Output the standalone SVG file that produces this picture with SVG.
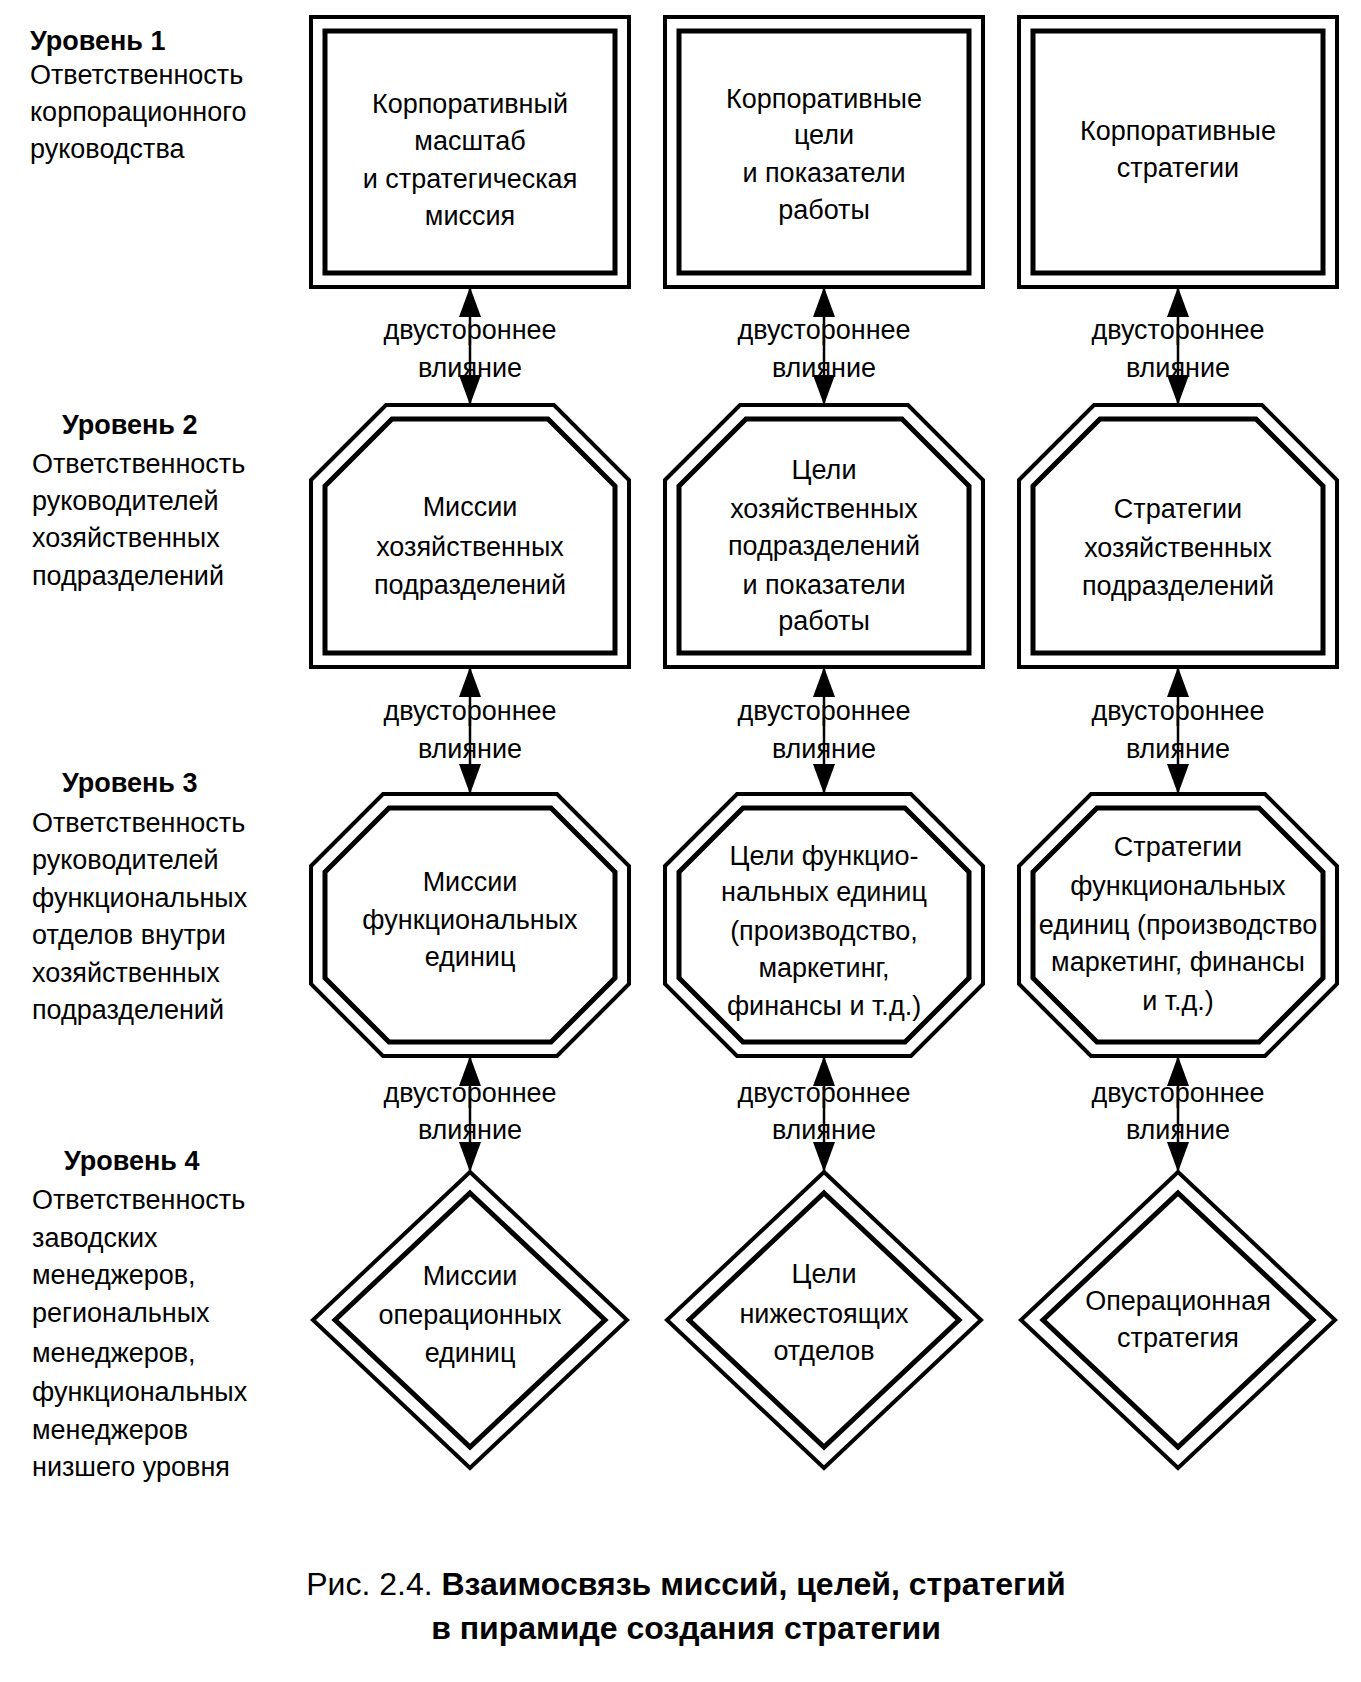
<svg xmlns="http://www.w3.org/2000/svg" width="1361" height="1682" viewBox="0 0 1361 1682">
<style>
text{font-family:"Liberation Sans",Arial,sans-serif;font-size:27px;fill:#000}
.c{text-anchor:middle}
.b{font-weight:bold}
.o{fill:#fff;stroke:#000;stroke-width:4;stroke-linejoin:miter}
.i{fill:none;stroke:#000;stroke-width:5;stroke-linejoin:miter}
.con{stroke:#000;stroke-width:2.5;fill:none;marker-start:url(#ah);marker-end:url(#ah)}
.cap{font-size:32px}
</style>
<defs>
<marker id="ah" viewBox="0 0 30 22" refX="30" refY="11" markerWidth="30" markerHeight="22" markerUnits="userSpaceOnUse" orient="auto-start-reverse">
<path d="M0,0 L30,11 L0,22 z" fill="#000"/>
</marker>
</defs>
<rect width="1361" height="1682" fill="#fff"/>

<g id="connectors">
<line class="con" x1="470" y1="287" x2="470" y2="405"/>
<line class="con" x1="824" y1="287" x2="824" y2="405"/>
<line class="con" x1="1178" y1="287" x2="1178" y2="405"/>
<line class="con" x1="470" y1="667" x2="470" y2="794"/>
<line class="con" x1="824" y1="667" x2="824" y2="794"/>
<line class="con" x1="1178" y1="667" x2="1178" y2="794"/>
<line class="con" x1="470" y1="1056" x2="470" y2="1172"/>
<line class="con" x1="824" y1="1056" x2="824" y2="1172"/>
<line class="con" x1="1178" y1="1056" x2="1178" y2="1172"/>
</g>

<g id="connector-labels">
<text class="c" x="470" y="339">двустороннее</text><text class="c" x="470" y="377">влияние</text>
<text class="c" x="824" y="339">двустороннее</text><text class="c" x="824" y="377">влияние</text>
<text class="c" x="1178" y="339">двустороннее</text><text class="c" x="1178" y="377">влияние</text>
<text class="c" x="470" y="720">двустороннее</text><text class="c" x="470" y="758">влияние</text>
<text class="c" x="824" y="720">двустороннее</text><text class="c" x="824" y="758">влияние</text>
<text class="c" x="1178" y="720">двустороннее</text><text class="c" x="1178" y="758">влияние</text>
<text class="c" x="470" y="1102">двустороннее</text><text class="c" x="470" y="1139">влияние</text>
<text class="c" x="824" y="1102">двустороннее</text><text class="c" x="824" y="1139">влияние</text>
<text class="c" x="1178" y="1102">двустороннее</text><text class="c" x="1178" y="1139">влияние</text>
</g>

<g id="level-labels">
<text x="30" y="50" class="b">Уровень 1</text>
<text x="30" y="84">Ответственность</text>
<text x="30" y="121">корпорационного</text>
<text x="30" y="158">руководства</text>

<text x="62" y="434" class="b">Уровень 2</text>
<text x="32" y="473">Ответственность</text>
<text x="32" y="510">руководителей</text>
<text x="32" y="547">хозяйственных</text>
<text x="32" y="585">подразделений</text>

<text x="62" y="792" class="b">Уровень 3</text>
<text x="32" y="832">Ответственность</text>
<text x="32" y="869">руководителей</text>
<text x="32" y="907">функциональных</text>
<text x="32" y="944">отделов внутри</text>
<text x="32" y="982">хозяйственных</text>
<text x="32" y="1019">подразделений</text>

<text x="64" y="1170" class="b">Уровень 4</text>
<text x="32" y="1209">Ответственность</text>
<text x="32" y="1247">заводских</text>
<text x="32" y="1284">менеджеров,</text>
<text x="32" y="1322">региональных</text>
<text x="32" y="1362">менеджеров,</text>
<text x="32" y="1401">функциональных</text>
<text x="32" y="1439">менеджеров</text>
<text x="32" y="1476">низшего уровня</text>
</g>

<!-- Level 1 -->
<g id="n-corp-mission">
<rect class="o" x="311" y="17" width="318" height="270"/>
<rect class="i" x="325" y="31" width="290" height="242"/>
<text class="c" x="470" y="113">Корпоративный</text>
<text class="c" x="470" y="150">масштаб</text>
<text class="c" x="470" y="188">и стратегическая</text>
<text class="c" x="470" y="225">миссия</text>
</g>
<g id="n-corp-goals">
<rect class="o" x="665" y="17" width="318" height="270"/>
<rect class="i" x="679" y="31" width="290" height="242"/>
<text class="c" x="824" y="108">Корпоративные</text>
<text class="c" x="824" y="144">цели</text>
<text class="c" x="824" y="182">и показатели</text>
<text class="c" x="824" y="219">работы</text>
</g>
<g id="n-corp-strategy">
<rect class="o" x="1019" y="17" width="318" height="270"/>
<rect class="i" x="1033" y="31" width="290" height="242"/>
<text class="c" x="1178" y="140">Корпоративные</text>
<text class="c" x="1178" y="177">стратегии</text>
</g>

<!-- Level 2 -->
<g id="n-bu-mission">
<polygon class="o" points="311,480 386,405 554,405 629,480 629,667 311,667"/>
<polygon class="i" points="325,486 392,419 548,419 615,486 615,653 325,653"/>
<text class="c" x="470" y="516">Миссии</text>
<text class="c" x="470" y="556">хозяйственных</text>
<text class="c" x="470" y="594">подразделений</text>
</g>
<g id="n-bu-goals">
<polygon class="o" points="665,480 740,405 908,405 983,480 983,667 665,667"/>
<polygon class="i" points="679,486 746,419 902,419 969,486 969,653 679,653"/>
<text class="c" x="824" y="479">Цели</text>
<text class="c" x="824" y="518">хозяйственных</text>
<text class="c" x="824" y="555">подразделений</text>
<text class="c" x="824" y="594">и показатели</text>
<text class="c" x="824" y="630">работы</text>
</g>
<g id="n-bu-strategy">
<polygon class="o" points="1019,480 1094,405 1262,405 1337,480 1337,667 1019,667"/>
<polygon class="i" points="1033,486 1100,419 1256,419 1323,486 1323,653 1033,653"/>
<text class="c" x="1178" y="518">Стратегии</text>
<text class="c" x="1178" y="557">хозяйственных</text>
<text class="c" x="1178" y="595">подразделений</text>
</g>

<!-- Level 3 -->
<g id="n-fn-mission">
<polygon class="o" points="311,866 383,794 557,794 629,866 629,984 557,1056 383,1056 311,984"/>
<polygon class="i" points="325,872 389,808 551,808 615,872 615,978 551,1042 389,1042 325,978"/>
<text class="c" x="470" y="891">Миссии</text>
<text class="c" x="470" y="929">функциональных</text>
<text class="c" x="470" y="966">единиц</text>
</g>
<g id="n-fn-goals">
<polygon class="o" points="665,866 737,794 911,794 983,866 983,984 911,1056 737,1056 665,984"/>
<polygon class="i" points="679,872 743,808 905,808 969,872 969,978 905,1042 743,1042 679,978"/>
<text class="c" x="824" y="865">Цели функцио-</text>
<text class="c" x="824" y="901">нальных единиц</text>
<text class="c" x="824" y="940">(производство,</text>
<text class="c" x="824" y="977">маркетинг,</text>
<text class="c" x="824" y="1015">финансы и т.д.)</text>
</g>
<g id="n-fn-strategy">
<polygon class="o" points="1019,866 1091,794 1265,794 1337,866 1337,984 1265,1056 1091,1056 1019,984"/>
<polygon class="i" points="1033,872 1097,808 1259,808 1323,872 1323,978 1259,1042 1097,1042 1033,978"/>
<text class="c" x="1178" y="856">Стратегии</text>
<text class="c" x="1178" y="895">функциональных</text>
<text class="c" x="1178" y="934">единиц (производство</text>
<text class="c" x="1178" y="971">маркетинг, финансы</text>
<text class="c" x="1178" y="1010">и т.д.)</text>
</g>

<!-- Level 4 -->
<g id="n-op-mission">
<polygon class="o" points="470,1172 627,1320 470,1468 313,1320"/>
<polygon class="i" points="470,1193 605,1320 470,1447 335,1320"/>
<text class="c" x="470" y="1285">Миссии</text>
<text class="c" x="470" y="1324">операционных</text>
<text class="c" x="470" y="1362">единиц</text>
</g>
<g id="n-op-goals">
<polygon class="o" points="824,1172 981,1320 824,1468 667,1320"/>
<polygon class="i" points="824,1193 959,1320 824,1447 689,1320"/>
<text class="c" x="824" y="1283">Цели</text>
<text class="c" x="824" y="1323">нижестоящих</text>
<text class="c" x="824" y="1360">отделов</text>
</g>
<g id="n-op-strategy">
<polygon class="o" points="1178,1172 1335,1320 1178,1468 1021,1320"/>
<polygon class="i" points="1178,1193 1313,1320 1178,1447 1043,1320"/>
<text class="c" x="1178" y="1310">Операционная</text>
<text class="c" x="1178" y="1347">стратегия</text>
</g>

<g id="caption">
<text class="c cap" x="686" y="1595">Рис. 2.4. <tspan class="b">Взаимосвязь миссий, целей, стратегий</tspan></text>
<text class="c cap b" x="686" y="1639">в пирамиде создания стратегии</text>
</g>
</svg>
